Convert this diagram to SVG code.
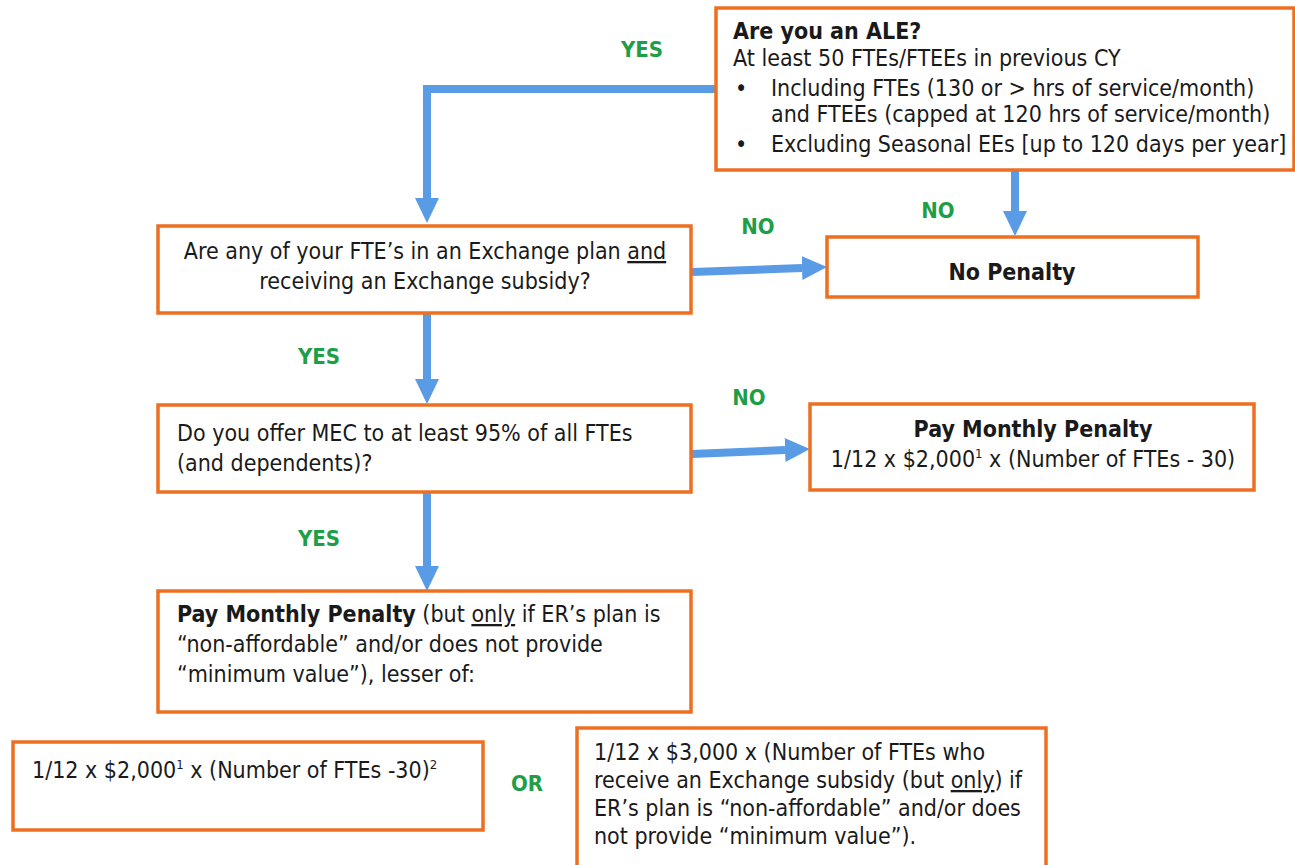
<svg xmlns="http://www.w3.org/2000/svg" width="1295" height="865" viewBox="0 0 1295 865">
<style>
.box{fill:#fff;stroke:#ED7022;stroke-width:3.5}
.t{font-family:"DejaVu Sans Condensed","DejaVu Sans",sans-serif;font-size:23px;fill:#1a1a1a}
.b{font-weight:bold}
.lbl{font-family:"DejaVu Sans Condensed","DejaVu Sans",sans-serif;font-size:22px;font-weight:bold;fill:#1F9E48}
.con{fill:none;stroke:#5A9BE6;stroke-width:8}
.u{text-decoration:underline}
.sup{font-size:13px}
</style>
<defs>
<marker id="ah" markerUnits="userSpaceOnUse" markerWidth="26" markerHeight="26" refX="0" refY="12" orient="auto" viewBox="0 0 26 24">
<path d="M0,0 L25,12 L0,24 z" fill="#5A9BE6"/>
</marker>
</defs>
<rect width="1295" height="865" fill="#fff"/>
<g id="connectors">
<path class="con" d="M716,89 H427 V198" marker-end="url(#ah)"/>
<path class="con" d="M1015,170 V211" marker-end="url(#ah)"/>
<path class="con" d="M692,272 L802,268" marker-end="url(#ah)"/>
<path class="con" d="M427,314 V379" marker-end="url(#ah)"/>
<path class="con" d="M692,454 L785,450" marker-end="url(#ah)"/>
<path class="con" d="M427,493 V566" marker-end="url(#ah)"/>
</g>
<g id="labels">
<text class="lbl" x="642" y="57" text-anchor="middle">YES</text>
<text class="lbl" x="938" y="218" text-anchor="middle">NO</text>
<text class="lbl" x="758" y="234" text-anchor="middle">NO</text>
<text class="lbl" x="319" y="364" text-anchor="middle">YES</text>
<text class="lbl" x="749" y="405" text-anchor="middle">NO</text>
<text class="lbl" x="319" y="546" text-anchor="middle">YES</text>
<text class="lbl" x="527" y="791" text-anchor="middle">OR</text>
</g>
<g id="ale">
<rect class="box" x="716" y="8" width="578" height="162"/>
<text class="t b" x="733" y="39">Are you an ALE?</text>
<text class="t" x="733" y="66">At least 50 FTEs/FTEEs in previous CY</text>
<text class="t" x="735" y="96">•</text>
<text class="t" x="771" y="96">Including FTEs (130 or &gt; hrs of service/month)</text>
<text class="t" x="771" y="122">and FTEEs (capped at 120 hrs of service/month)</text>
<text class="t" x="735" y="152">•</text>
<text class="t" x="771" y="152">Excluding Seasonal EEs [up to 120 days per year]</text>
</g>
<g id="exchange">
<rect class="box" x="158" y="226" width="533" height="87"/>
<text class="t" x="425" y="259" text-anchor="middle">Are any of your FTE’s in an Exchange plan <tspan class="u">and</tspan></text>
<text class="t" x="425" y="289" text-anchor="middle">receiving an Exchange subsidy?</text>
</g>
<g id="nopenalty">
<rect class="box" x="827" y="237" width="371" height="60"/>
<text class="t b" x="1012" y="280" text-anchor="middle">No Penalty</text>
</g>
<g id="mec">
<rect class="box" x="158" y="405" width="533" height="87"/>
<text class="t" x="177" y="441">Do you offer MEC to at least 95% of all FTEs</text>
<text class="t" x="177" y="471">(and dependents)?</text>
</g>
<g id="penalty1">
<rect class="box" x="810" y="404" width="444" height="86"/>
<text class="t b" x="1033" y="437" text-anchor="middle">Pay Monthly Penalty</text>
<text class="t" x="1033" y="467" text-anchor="middle">1/12 x $2,000<tspan class="sup" dy="-9">1</tspan><tspan dy="9"> x (Number of FTEs - 30)</tspan></text>
</g>
<g id="penalty2">
<rect class="box" x="158" y="591" width="533" height="121"/>
<text class="t" x="177" y="622"><tspan class="b">Pay Monthly Penalty</tspan> (but <tspan class="u">only</tspan> if ER’s plan is</text>
<text class="t" x="177" y="652">“non-affordable” and/or does not provide</text>
<text class="t" x="177" y="682">“minimum value”), lesser of:</text>
</g>
<g id="option1">
<rect class="box" x="13" y="742" width="470" height="88"/>
<text class="t" x="32" y="778">1/12 x $2,000<tspan class="sup" dy="-9">1</tspan><tspan dy="9"> x (Number of FTEs -30)</tspan><tspan class="sup" dy="-9">2</tspan></text>
</g>
<g id="option2">
<rect class="box" x="577" y="728" width="469" height="140"/>
<text class="t" x="594" y="760">1/12 x $3,000 x (Number of FTEs who</text>
<text class="t" x="594" y="788">receive an Exchange subsidy (but <tspan class="u">only</tspan>) if</text>
<text class="t" x="594" y="816">ER’s plan is “non-affordable” and/or does</text>
<text class="t" x="594" y="844">not provide “minimum value”).</text>
</g>
</svg>
